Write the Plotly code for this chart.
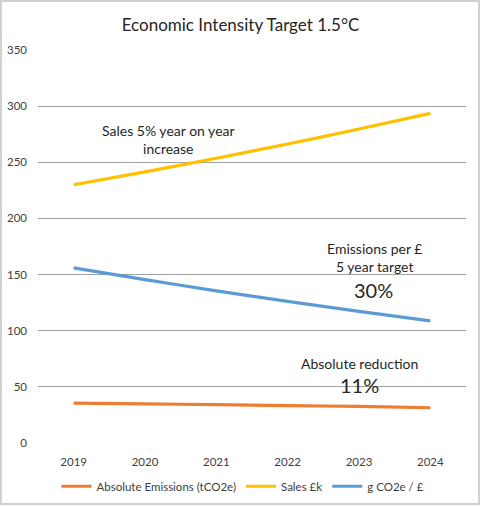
import plotly.graph_objects as go

# Data
years = ["2019", "2020", "2021", "2022", "2023", "2024"]
absolute_emissions = [35.5, 34.8, 34.2, 33.3, 32.6, 31.4]
sales = [230, 241.5, 253.6, 266.3, 279.6, 293.6]
g_per_pound = [156, 145.5, 135.5, 126.2, 117.2, 108.8]

series_names = ["Absolute Emissions (tCO2e)", "Sales £k", "g CO2e / £"]
series_colors = ["#ED7D31", "#FFC000", "#5B9BD5"]
y_ticks = [0, 50, 100, 150, 200, 250, 300, 350]

fig = go.Figure()

for name, vals, col in zip(series_names, [absolute_emissions, sales, g_per_pound], series_colors):
    fig.add_trace(go.Scatter(
        x=years, y=vals, name=name, mode="lines",
        line=dict(color=col, width=3.2, shape="spline", smoothing=0.6),
    ))

note_font = dict(family="Lato, Open Sans, sans-serif", size=14, color="#262626")
big_font = dict(family="Lato, Open Sans, sans-serif", size=20, color="#262626")

# Text boxes
notes = [
    (0.304, 270, "Sales 5% year on year<br>increase", note_font),
    (0.786, 165, "Emissions per £<br>5 year target", note_font),
    (0.785, 136, "30%", big_font),
    (0.752, 71, "Absolute reduction", note_font),
    (0.751, 52, "11%", big_font),
]
for nx, ny, txt, fnt in notes:
    fig.add_annotation(xref="paper", x=nx, y=ny, text=txt, showarrow=False,
                       xanchor="center", yanchor="middle", font=fnt, align="center")

# Outer chart border
fig.add_shape(type="rect", xref="paper", yref="paper",
              x0=-0.0864, x1=1.0304, y0=-0.155, y1=1.1247,
              line=dict(color="#D0D0D0", width=2), fillcolor="rgba(0,0,0,0)", layer="below")

fig.update_layout(
    width=481, height=506,
    margin=dict(l=38, r=15, t=50, b=63, autoexpand=False),
    title=dict(text="Economic Intensity Target 1.5°C", x=0.5, xanchor="center",
               y=0.95, yanchor="middle",
               font=dict(family="Lato, Open Sans, sans-serif", size=17, color="#262626")),
    plot_bgcolor="white", paper_bgcolor="white",
    font=dict(family="Lato, Open Sans, sans-serif", size=11.5, color="#404040"),
    xaxis=dict(type="category", range=[-0.5, 5.5], showgrid=False, zeroline=False,
               showline=False, ticks="", ticklabelstandoff=10,
               tickfont=dict(size=11.5, color="#404040")),
    yaxis=dict(range=[0, 350], tickvals=y_ticks, showgrid=True, gridcolor="#A0A0A0",
               gridwidth=1, zeroline=False, showline=False, ticks="", ticklabelstandoff=10,
               tickfont=dict(size=11.5, color="#404040")),
    legend=dict(orientation="h", x=0.479, xanchor="center", y=-0.11, yanchor="middle",
                font=dict(size=11.5, color="#404040"), itemwidth=30, tracegroupgap=0),
)

fig.write_html("out.html", config={"displayModeBar": False},
               post_script="document.body.style.margin='0';")
